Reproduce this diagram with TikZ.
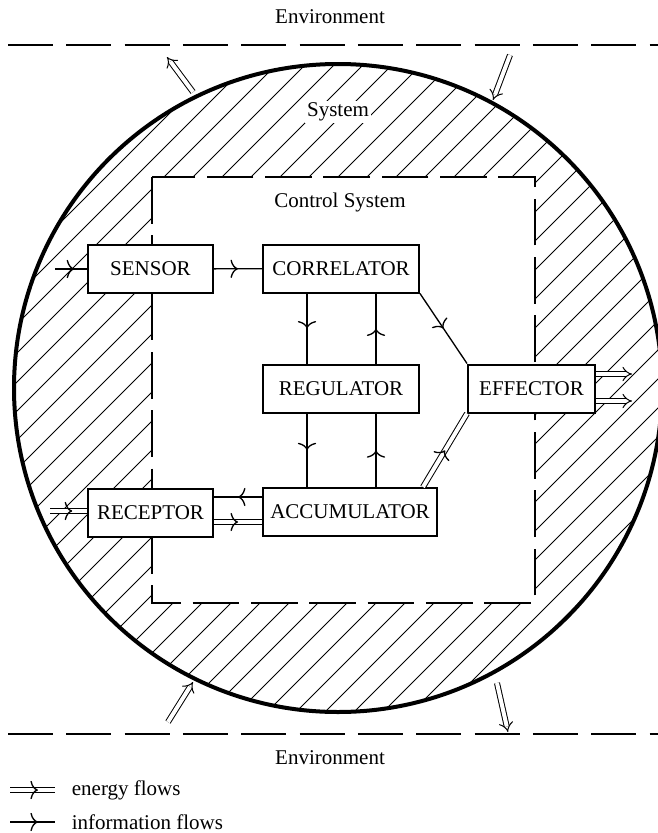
\documentclass[tikz,border=0pt]{standalone}
\usepackage{fontspec}
\setmainfont{Liberation Serif}
\usetikzlibrary{arrows.meta, decorations.markings}

\begin{document}
\begin{tikzpicture}[x=0.6pt, y=-0.6pt,
        every node/.style={font=\fontsize{12.6}{15}\selectfont},
        unit/.style={draw, fill=white, line width=1.2pt, minimum height=28.8pt, inner sep=0pt},
        flowmark/.style={postaction={decorate}, decoration={markings,
            mark=at position #1 with {\arrow{Computer Modern Rightarrow[length=4.5pt, width=11pt, line width=0.8pt]}}}},
        info/.style={line width=0.8pt, flowmark=#1},
        info/.default=0.5,
        energy/.style={double, double distance=2.4pt, line width=0.6pt, flowmark=#1},
        energy/.default=0.5,
        bigflow/.style={double, double distance=2.4pt, line width=0.6pt, -{Implies}},
        hatch/.style={line width=0.45pt},
        envline/.style={line width=0.9pt, dash pattern=on 27pt off 8pt},
        ctrlline/.style={line width=0.9pt, dash pattern=on 28pt off 7pt}]

        \useasboundingbox (0,0) rectangle (658,833);

        % system: hatched ring
        \begin{scope}
            \clip (338,388) circle (324);
            \foreach \hx in {80,109,...,1380}
                \draw[hatch] (\hx-760,760) -- (\hx+40,-40);
        \end{scope}
        \fill[white] (152,177) rectangle (535,603);
        \draw[ctrlline] (152,177) rectangle (535,603);
        \draw[line width=2.4pt] (338,388) circle (324);

        % environment
        \coordinate (envTL) at (8,45);
        \coordinate (envTR) at (658,45);
        \coordinate (envBL) at (8,734);
        \coordinate (envBR) at (658,734);
        \draw[envline] (envTL) -- (envTR);
        \draw[envline] (envBL) -- (envBR);
        \node (envtop) at (330,17) {Environment};
        \node (envbot) at (330,758) {Environment};
        \node[fill=white, inner sep=1pt] (system) at (338,112) {System};
        \node (control) at (340,202) {Control System};

        % units
        \node[unit, minimum width=75pt] (sensor) at (150.5,269) {SENSOR};
        \node[unit, minimum width=93.6pt] (correlator) at (341,268.5) {CORRELATOR};
        \node[unit, minimum width=93.6pt] (regulator) at (341,388.5) {REGULATOR};
        \node[unit, minimum width=76.2pt] (effector) at (531.5,388.5) {EFFECTOR};
        \node[unit, minimum width=75pt] (receptor) at (150.5,512.5) {RECEPTOR};
        \node[unit, minimum width=104.4pt] (accumulator) at (350,512) {ACCUMULATOR};

        % flows inside
        \coordinate (senin) at (55,269);
        \coordinate (recin) at (50,511);
        \draw[info=0.6] (senin) -- (senin -| sensor.west);
        \draw[energy=0.6] (recin) -- (recin -| receptor.west);
        \draw[info] (sensor) -- (correlator);
        \draw[info] ([xshift=-20.4pt]correlator.south) -- ([xshift=-20.4pt]regulator.north);
        \draw[info] ([xshift=21pt]regulator.north) -- ([xshift=21pt]correlator.south);
        \draw[info] ([xshift=-20.4pt]regulator.south) -- ([xshift=-20.4pt]regulator.south |- accumulator.north);
        \draw[info] ([xshift=21pt]regulator.south |- accumulator.north) -- ([xshift=21pt]regulator.south);
        \draw[info] (correlator.south east) -- (effector.north west);
        \draw[energy] ([xshift=43.8pt]accumulator.north) -- (effector.south west);
        \draw[info] ([yshift=9pt]accumulator.west) -- ([yshift=9pt]accumulator.west -| receptor.east);
        \draw[energy] ([yshift=-5.7pt]receptor.east) -- ([yshift=-5.7pt]receptor.east -| accumulator.west);

        % flows out of effector
        \coordinate (out1) at (632,374);
        \coordinate (out2) at (632,401);
        \draw[bigflow] (effector.east |- out1) -- (out1);
        \draw[bigflow] (effector.east |- out2) -- (out2);

        % flows across the boundary
        \coordinate (tlA) at (193,92);
        \coordinate (tlB) at (167,57);
        \coordinate (trA) at (510,55);
        \coordinate (trB) at (493,100);
        \coordinate (blA) at (168,722);
        \coordinate (blB) at (193,682);
        \coordinate (brA) at (497,683);
        \coordinate (brB) at (508,732);
        \draw[bigflow] (tlA) -- (tlB);
        \draw[bigflow] (trA) -- (trB);
        \draw[bigflow] (blA) -- (blB);
        \draw[bigflow] (brA) -- (brB);

        % legend
        \coordinate (legE1) at (10,790);
        \coordinate (legE2) at (55,790);
        \coordinate (legI1) at (10,822);
        \coordinate (legI2) at (55,822);
        \draw[energy=0.62] (legE1) -- (legE2);
        \draw[info=0.62] (legI1) -- (legI2);
        \node[anchor=west] (legenergy) at (66,790) {energy flows};
        \node[anchor=west] (leginfo) at (66,822) {information flows};
    \end{tikzpicture}
\end{document}
